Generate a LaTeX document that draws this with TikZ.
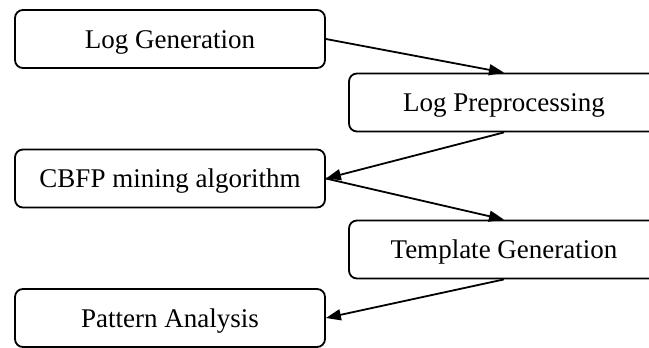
\documentclass[tikz,border=0pt]{standalone}
\usepackage{fontspec}
\setmainfont{Liberation Serif}
\usetikzlibrary{arrows.meta}
\begin{document}
\begin{tikzpicture}[x=1pt,y=1pt,
  stage/.style={draw, line width=1.8pt, rounded corners=8pt, minimum width=310pt, minimum height=58pt, inner sep=0pt, text height=18.5pt, text depth=0pt, font=\fontsize{27}{30}\selectfont},
  flow/.style={line width=1.8pt, -{Triangle[length=15pt,width=11pt]}}]
\useasboundingbox (0,0) rectangle (649,-348);
\clip (0,0) rectangle (649,-348);
\node[stage] (b1) at (170,-39) {Log Generation};
\node[stage] (b2) at (504,-102.5) {Log Preprocessing};
\node[stage] (b3) at (170,-178.5) {CBFP mining algorithm};
\node[stage] (b4) at (504,-249.5) {Template Generation};
\node[stage] (b5) at (170,-318) {Pattern Analysis};
\draw[flow] (b1.east) -- (b2.north);
\draw[flow] (b2.south) -- (b3.east);
\draw[flow] (b3.east) -- (b4.north);
\draw[flow] (b4.south) -- (b5.east);
\end{tikzpicture}
\end{document}
